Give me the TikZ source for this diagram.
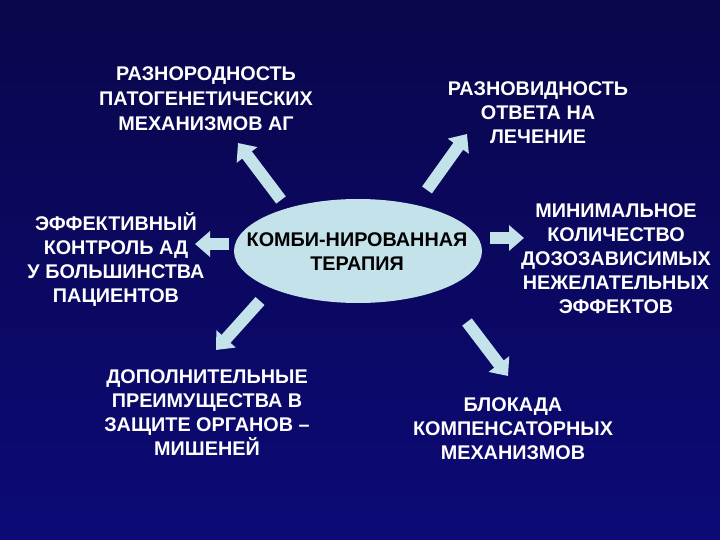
\documentclass[tikz,border=0pt]{standalone}
\usepackage{fontspec}
\setmainfont{Liberation Sans}
\usetikzlibrary{arrows.meta,shapes.geometric}
\definecolor{bgtop}{RGB}{10,6,76}
\definecolor{bgbot}{RGB}{12,10,118}
\definecolor{pale}{RGB}{196,226,234}
\tikzset{
	txt/.style={text=white, font=\fontsize{19.8}{24}\bfseries\selectfont, align=center, inner sep=0pt},
	blockarrow/.style={draw=pale, line width=12pt, -{Triangle[width=25pt,length=15pt]}}
}
\begin{document}
\begin{tikzpicture}[x=1pt, y=-1pt]
		\useasboundingbox (0,0) rectangle (720,540);
		\shade[top color=bgtop, bottom color=bgbot] (0,0) rectangle (720,540);
		\node[ellipse, fill=pale, minimum width=248pt, minimum height=104pt, inner sep=0pt] (ther) at (358,251) {};
		\node[txt, text=black] (therlbl) at (357,252) {КОМБИ-НИРОВАННАЯ\\ТЕРАПИЯ};
		\node[txt, font=\fontsize{19.8}{25}\bfseries\selectfont] (razn) at (206,99) {РАЗНОРОДНОСТЬ\\ПАТОГЕНЕТИЧЕСКИХ\\МЕХАНИЗМОВ АГ};
		\node[txt] (otv) at (538,113) {РАЗНОВИДНОСТЬ\\ОТВЕТА НА\\ЛЕЧЕНИЕ};
		\node[txt] (kontr) at (116,260) {ЭФФЕКТИВНЫЙ\\КОНТРОЛЬ АД\\У БОЛЬШИНСТВА\\ПАЦИЕНТОВ};
		\node[txt] (min) at (616,259) {МИНИМАЛЬНОЕ\\КОЛИЧЕСТВО\\ДОЗОЗАВИСИМЫХ\\НЕЖЕЛАТЕЛЬНЫХ\\ЭФФЕКТОВ};
		\node[txt] (dop) at (207,413) {ДОПОЛНИТЕЛЬНЫЕ\\ПРЕИМУЩЕСТВА В\\ЗАЩИТЕ ОРГАНОВ –\\МИШЕНЕЙ};
		\node[txt] (blok) at (513,429) {БЛОКАДА\\КОМПЕНСАТОРНЫХ\\МЕХАНИЗМОВ};
		% arrow ends
		\coordinate (a1) at (281,200); \coordinate (b1) at (238,143);
		\coordinate (a2) at (427,190); \coordinate (b2) at (467,134);
		\coordinate (a3) at (229,244); \coordinate (b3) at (195,244);
		\coordinate (a4) at (490,238); \coordinate (b4) at (524,238);
		\coordinate (a5) at (260,301); \coordinate (b5) at (216,350);
		\coordinate (a6) at (467,322); \coordinate (b6) at (508,376);
		\foreach \i in {1,...,6} \draw[blockarrow] (a\i) -- (b\i);
	\end{tikzpicture}
\end{document}
